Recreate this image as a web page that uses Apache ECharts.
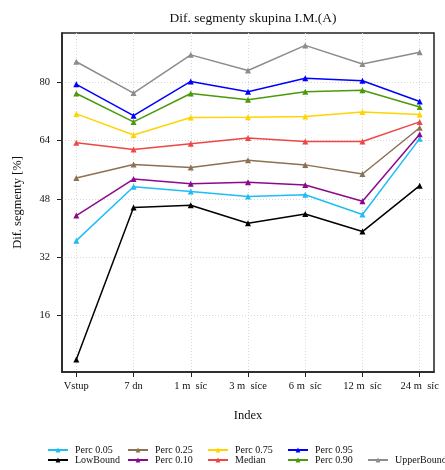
<!DOCTYPE html>
<html>
<head>
<meta charset="utf-8">
<script src="https://cdn.jsdelivr.net/npm/echarts@6/dist/echarts.min.js"></script>
<style>
  html, body { margin: 0; padding: 0; background: #fff; }
  #chart { width: 445px; height: 470px; }
</style>
</head>
<body>
<div id="chart"></div>
<script>
// categories on the x axis
const categories = ['Vstup', '7 dn', '1 m  síc', '3 m  síce', '6 m  síc', '12 m  síc', '24 m  síc'];
const yTicks = [16, 32, 48, 64, 80];

// series values
const perc05   = [36.5, 51.3, 50.0, 48.6, 49.1, 43.7, 64.5];
const lowBound = [3.9, 45.6, 46.2, 41.3, 43.8, 39.0, 51.6];
const perc25   = [53.7, 57.4, 56.6, 58.6, 57.3, 54.8, 67.5];
const perc10   = [43.4, 53.4, 52.1, 52.5, 51.8, 47.3, 65.7];
const perc75   = [71.3, 65.5, 70.3, 70.4, 70.6, 71.8, 71.1];
const median   = [63.4, 61.5, 63.1, 64.7, 63.7, 63.7, 69.1];
const perc95   = [79.4, 70.8, 80.2, 77.4, 81.1, 80.4, 74.7];
const perc90   = [76.9, 69.1, 76.9, 75.2, 77.4, 77.8, 73.2];
const upperBound = [85.6, 77.0, 87.5, 83.2, 90.1, 85.0, 88.2];

const seriesNames = ['Perc 0.05', 'LowBound', 'Perc 0.25', 'Perc 0.10', 'Perc 0.75', 'Median', 'Perc 0.95', 'Perc 0.90', 'UpperBound'];
const seriesData = [perc05, lowBound, perc25, perc10, perc75, median, perc95, perc90, upperBound];
const seriesColors = ['#1EBEF5', '#000000', '#8C7153', '#8B0A8B', '#FFD400', '#F04545', '#0000FF', '#4A9A0A', '#8C8C8C'];

const FONT = '"Liberation Serif", "DejaVu Serif", serif';
const chart = echarts.init(document.getElementById('chart'));

// legend: one small legend per entry, two rows
const legends = seriesNames.map((name, i) => {
  let col = Math.floor(i / 2);
  let row = i % 2;
  if (i === 8) row = 1;
  return {
    data: [name],
    left: 47 + col * 80,
    top: 445 + row * 10,
    itemWidth: 20,
    itemHeight: 6,
    itemGap: 0,
    padding: 0,
    textStyle: { fontFamily: FONT, fontSize: 10, color: '#111', padding: [0, 0, 0, 2] }
  };
});

const option = {
  animation: false,
  backgroundColor: '#fff',
  title: {
    text: 'Dif. segmenty skupina I.M.(A)',
    left: 248,
    textAlign: 'center',
    top: 6,
    textStyle: { fontFamily: FONT, fontSize: 13.5, fontWeight: 'normal', color: '#111' }
  },
  legend: legends,
  grid: {
    left: 62, right: 11, top: 33, bottom: 98,
    show: true, borderColor: '#222', borderWidth: 1.5
  },
  xAxis: {
    type: 'value',
    min: -0.25,
    max: 6.25,
    name: 'Index',
    nameLocation: 'middle',
    nameGap: 37,
    nameTextStyle: { fontFamily: FONT, fontSize: 12.5, color: '#111' },
    axisLine: { show: true, onZero: false, lineStyle: { color: '#222', width: 1.5 } },
    axisTick: { show: true, length: 5, customValues: categories.map((c, i) => i), lineStyle: { color: '#222' } },
    axisLabel: {
      customValues: categories.map((c, i) => i),
      formatter: v => categories[Math.round(v)] || '',
      fontFamily: FONT, fontSize: 10.5, color: '#111', margin: 9
    },
    splitLine: { show: true, lineStyle: { color: '#d8d8d8', type: [1, 2], width: 1 } }
  },
  yAxis: {
    type: 'value',
    min: 0.45,
    max: 93.5,
    name: 'Dif. segmenty [%]',
    nameLocation: 'middle',
    nameGap: 38,
    nameTextStyle: { fontFamily: FONT, fontSize: 12.5, color: '#111' },
    axisLine: { show: true, onZero: false, lineStyle: { color: '#222', width: 1.5 } },
    axisTick: { show: true, length: 5, customValues: yTicks, lineStyle: { color: '#222' } },
    axisLabel: { customValues: yTicks, fontFamily: FONT, fontSize: 10.5, color: '#111', margin: 12 },
    splitLine: { show: true, lineStyle: { color: '#d8d8d8', type: [1, 2], width: 1 } }
  },
  series: seriesNames.map((name, i) => ({
    name: name,
    type: 'line',
    data: seriesData[i].map((v, j) => [j, v]),
    color: seriesColors[i],
    symbol: 'triangle',
    symbolSize: 6,
    showSymbol: true,
    lineStyle: { width: 1.5, color: seriesColors[i] },
    itemStyle: { color: seriesColors[i] }
  }))
};

chart.setOption(option);
</script>
</body>
</html>
